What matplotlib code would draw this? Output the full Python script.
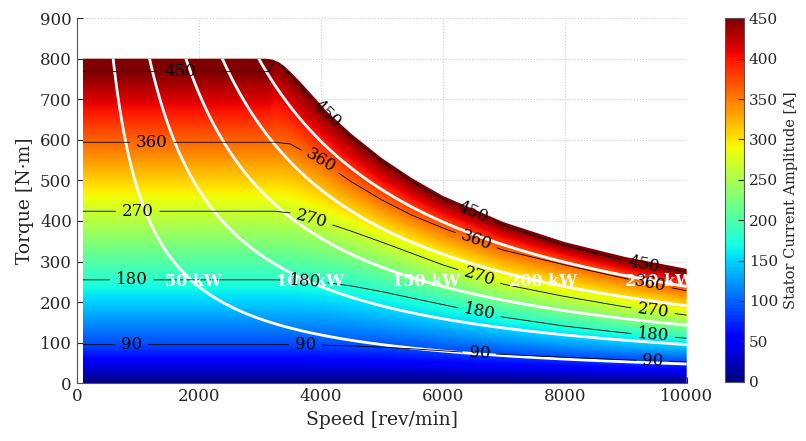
import numpy as np
import matplotlib.pyplot as plt
from matplotlib.patches import Polygon

# torque envelope (max torque vs speed)
env_speed = [100, 3100, 3200, 3300, 3400, 3500, 3650, 3850, 4100, 4500, 5000, 5500, 6000, 7000, 8000, 9000, 10000]
env_torque = [800, 800, 798, 792, 782, 768, 745, 712, 670, 615, 555, 505, 462, 397, 348, 311, 282]

# torque where the stator current reaches each contour level
lvl_speed = [100, 3150, 3250, 3500, 4000, 4500, 5000, 5500, 6000, 7000, 8000, 9000, 10000]
current_levels = [90, 180, 270, 360, 450]
t90 = [95, 95, 95, 95, 94, 92, 89, 85, 80, 71, 64, 58, 53]
t180 = [255, 255, 255, 254, 250, 240, 226, 210, 194, 163, 141, 124, 111]
t270 = [424, 424, 424, 420, 400, 375, 348, 320, 292, 244, 214, 188, 168]
t360 = [594, 594, 594, 590, 548, 497, 452, 414, 383, 328, 292, 258, 228]
t450 = [768, 768, 802, 760, 677, 607, 547, 497, 454, 389, 340, 302, 274]

power_levels = [50, 100, 150, 200, 250]  # kW

tick_size = 12
label_size = 13.5
plt.rcParams['font.family'] = ['DejaVu Serif']
txt = '#262626'

# build the current map from the contour table
speed = np.linspace(100, 10000, 700)
torque = np.linspace(0, 820, 600)
S, T = np.meshgrid(speed, torque)
I = np.zeros_like(S)
tables = [t90, t180, t270, t360, t450]
for j, n in enumerate(speed):
    tl = [0.0] + [np.interp(n, lvl_speed, t) for t in tables]
    il = [0.0] + current_levels
    col = np.interp(torque, tl, il)
    slope = 90.0 / (tl[-1] - tl[-2])
    above = torque > tl[-1]
    col[above] = 450 + (torque[above] - tl[-1]) * slope
    I[:, j] = col
P = S * T * 2 * np.pi / 60 / 1000

fig = plt.figure(figsize=(8.06, 4.41), dpi=100)
ax = fig.add_axes([0.0952, 0.1308, 0.7568, 0.8282])
ax.set_xlim(0, 10000)
ax.set_ylim(0, 900)
ax.set_axisbelow(True)
ax.grid(True, linestyle=':', color='#cccccc', linewidth=0.8)

es = np.linspace(100, 10000, 400)
et = np.interp(es, env_speed, env_torque)
verts = [(100, 0)] + list(zip(es, et)) + [(10000, 0)]
clip = Polygon(verts, closed=True, facecolor='none', edgecolor='none', transform=ax.transData)
ax.add_patch(clip)

im = ax.imshow(I, extent=[100, 10000, 0, 820], origin='lower', aspect='auto',
               cmap='jet', vmin=0, vmax=450, interpolation='bilinear', zorder=1)
im.set_clip_path(clip)

pc = ax.contour(S, T, P, levels=power_levels, colors='white', linewidths=2, zorder=2)
pc.set_clip_path(clip)

cs = ax.contour(S, T, I, levels=current_levels, colors='black', linewidths=0.6, zorder=3)
cs.set_clip_path(clip)

# white power labels
for p in power_levels:
    x = p * 1000 / (250 * 2 * np.pi / 60)
    ax.text(x, 250, '%d kW' % p, color='white', fontweight='bold', fontsize=11.5,
            ha='center', va='center', zorder=4)

label_x = [[900, 3750, 6600, 9450], [900, 3750, 6600, 9450], [1000, 3850, 6600, 9450],
           [1230, 4000, 6550, 9400], [1700, 4100, 6500, 9290]]
label_pos = []
for k, xs in enumerate(label_x):
    for x in xs:
        label_pos.append((x, np.interp(x, lvl_speed, tables[k])))
lbls = ax.clabel(cs, current_levels, manual=label_pos, inline=True, fmt='%d',
                 fontsize=12, inline_spacing=6)
for t in lbls:
    t.set_zorder(5)

ax.set_xticks(np.arange(0, 10001, 2000))
ax.set_yticks(np.arange(0, 901, 100))
ax.tick_params(direction='in', length=4, labelsize=tick_size, colors=txt)
ax.set_xlabel('Speed [rev/min]', fontsize=label_size, color=txt)
ax.set_ylabel('Torque [N·m]', fontsize=label_size, color=txt)
ax.spines['top'].set_visible(False)
ax.spines['right'].set_visible(False)
ax.spines['left'].set_color('#555555')
ax.spines['bottom'].set_color('#555555')

cax = fig.add_axes([0.8995, 0.1345, 0.0236, 0.824])
cb = fig.colorbar(im, cax=cax, ticks=np.arange(0, 451, 50))
cb.outline.set_edgecolor('#555555')
cb.ax.tick_params(direction='in', length=4, labelsize=11, colors=txt)
cb.set_label('Stator Current Amplitude [A]', fontsize=10.5, color=txt)

plt.savefig('out.png', dpi=100)
